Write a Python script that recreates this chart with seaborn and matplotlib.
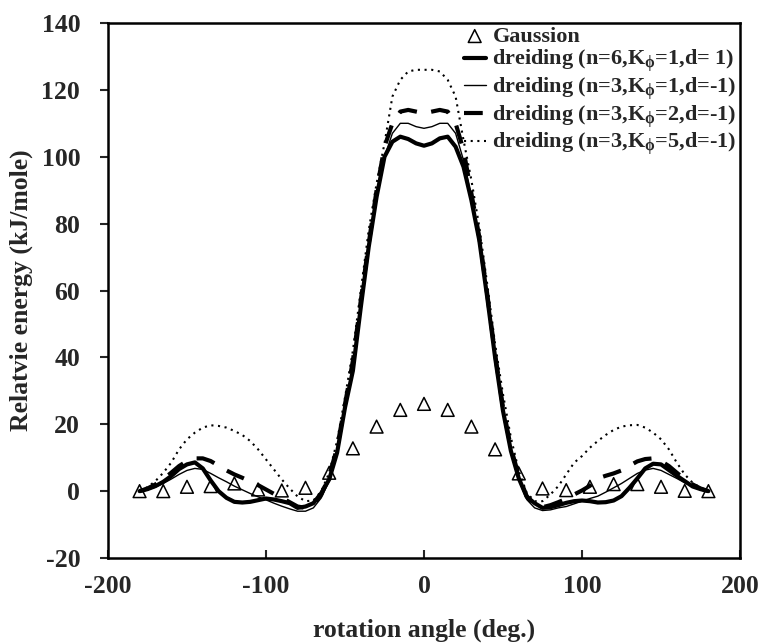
import matplotlib
matplotlib.use('Agg')
import matplotlib.pyplot as plt
import seaborn as sns
import pandas as pd

# rotation angles (deg.) for the dreiding curves, every 5 deg
angle = list(range(-180, 185, 5))

# dreiding (n=6, K=1, d=1) - thick solid
e_n6 = [0, 0.6, 1.5, 2.8, 4.5, 6.6, 8.0, 8.6, 6.8, 3.2,
        0.0, -2.0, -3.2, -3.4, -3.2, -2.7, -2.2, -2.5, -3.0, -3.6,
        -5.0, -4.6, -3.6, -0.6, 3.5, 11.5, 25, 36, 55, 73,
        88, 100, 104.5, 106, 105.3, 104, 103.3, 104, 105.5, 106,
        103, 97, 87, 75, 58, 40, 24, 12, 3.8, -1.7,
        -3.6, -5.0, -4.8, -4.2, -3.5, -3.0, -2.8, -3.0, -3.4, -3.3,
        -2.8, -1.5, 1.0, 3.8, 6.8, 8.2, 8.0, 6.3, 4.6, 3.0,
        1.4, 0.6, 0]

# dreiding (n=3, K=1, d=-1) - thin solid
e_k1 = [0, 0.4, 1.2, 2.3, 3.6, 5.0, 6.2, 6.8, 6.5, 5.3,
        4.0, 2.8, 1.5, 0.4, -0.7, -1.7, -2.6, -3.6, -4.5, -5.3,
        -6.0, -6.0, -5.0, -2.0, 3.0, 11, 24, 37, 55, 72,
        88, 100, 107, 110, 110, 109, 108.5, 109, 110, 110,
        107, 99, 88, 75, 58, 40, 24, 12, 3.5, -2.5,
        -5.0, -5.8, -5.6, -5.0, -4.6, -3.8, -3.0, -2.2, -1.5, -0.3,
        1.0, 2.3, 3.8, 5.3, 6.3, 6.8, 6.2, 5.0, 3.8, 2.5,
        1.4, 0.5, 0]

# dreiding (n=3, K=2, d=-1) - thick dashed
e_k2 = [0, 0.8, 2.0, 3.6, 5.5, 7.5, 9.0, 9.8, 9.8, 9.0,
        7.6, 6.2, 5.0, 4.0, 2.9, 1.8, 0.5, -0.8, -2.0, -3.3,
        -4.6, -5.0, -4.0, -1.0, 4.5, 13, 26, 39, 57, 74,
        90, 103, 110, 113.5, 114, 113.5, 113, 113.5, 114, 113.5,
        110, 102, 89, 76, 59, 41, 25, 13, 4.5, -1.5,
        -4.0, -4.8, -4.2, -3.3, -2.3, -1.0, 0.2, 1.6, 3.8, 4.6,
        5.3, 6.2, 7.6, 8.9, 9.6, 9.8, 9.0, 7.5, 5.5, 3.6,
        2.0, 0.8, 0]

# dreiding (n=3, K=5, d=-1) - dotted
e_k5 = [0, 1.2, 3.0, 5.5, 8.5, 12.5, 15.5, 17.5, 19.0, 19.7,
        19.5, 19.0, 18.0, 16.8, 15.0, 12.5, 9.5, 6.5, 3.5, 0.8,
        -1.6, -3.0, -2.8, 0, 5.5, 15, 28, 42, 60, 78,
        92, 104, 118, 123, 125.5, 126, 126, 126, 125.5, 123,
        118, 105, 93, 79, 62, 44, 29, 16, 6, -0.5,
        -3.0, -3.0, -1.0, 1.5, 5.0, 8.5, 10.5, 13.0, 15.0, 16.8,
        18.3, 19.3, 19.7, 19.8, 19.0, 17.5, 15.5, 12.5, 8.5, 5.0,
        2.5, 1.0, 0]

# Gaussian reference points, every 15 deg
g_angle = list(range(-180, 195, 15))
g_energy = [0, 0, 1.3, 1.5, 2.3, 0.5, 0.2, 1.0, 5.5, 12.8, 19.3, 24.3, 26.1,
            24.3, 19.3, 12.5, 5.3, 0.8, 0.3, 1.3, 2.1, 2.1, 1.3, 0.1, 0]

sns.set_style('ticks')
plt.rcParams['font.family'] = ['Liberation Serif', 'DejaVu Serif']
plt.rcParams['font.weight'] = 'bold'
plt.rcParams['axes.unicode_minus'] = False
plt.rcParams['mathtext.fontset'] = 'custom'
plt.rcParams['mathtext.rm'] = 'Liberation Serif:bold'
plt.rcParams['mathtext.it'] = 'Liberation Serif:bold'
plt.rcParams['mathtext.bf'] = 'Liberation Serif:bold'

df = pd.DataFrame({'angle': angle, 'n6': e_n6, 'k1': e_k1, 'k2': e_k2, 'k5': e_k5})
gdf = pd.DataFrame({'angle': g_angle, 'energy': g_energy})

fig = plt.figure(figsize=(7.63, 6.44), dpi=100)
ax = fig.add_axes([0.1415, 0.1335, 0.8284, 0.8308])

sns.scatterplot(data=gdf, x='angle', y='energy', marker='^', s=85,
                facecolor='none', edgecolor='black', linewidth=1.1,
                label='Gaussion', ax=ax, zorder=2)
sns.lineplot(data=df, x='angle', y='n6', color='black', linewidth=3.0,
             label=r'dreiding (n=6,K$_{\mathrm{\phi}}$=1,d= 1)', ax=ax, zorder=3)
sns.lineplot(data=df, x='angle', y='k1', color='black', linewidth=1.0,
             label=r'dreiding (n=3,K$_{\mathrm{\phi}}$=1,d=-1)', ax=ax, zorder=3)
sns.lineplot(data=df, x='angle', y='k2', color='black', linewidth=3.0,
             linestyle=(0, (4.5, 3.5)),
             label=r'dreiding (n=3,K$_{\mathrm{\phi}}$=2,d=-1)', ax=ax, zorder=3)
sns.lineplot(data=df, x='angle', y='k5', color='black', linewidth=1.5,
             linestyle=(0, (1, 2.2)),
             label=r'dreiding (n=3,K$_{\mathrm{\phi}}$=5,d=-1)', ax=ax, zorder=3)

ax.set_xlim(-200, 200)
ax.set_ylim(-20, 140)
ax.set_xticks([-200, -100, 0, 100, 200])
ax.set_yticks(range(-20, 141, 20))
ax.tick_params(axis='x', direction='in', length=6, width=1.5, labelsize=18.5, pad=12)
ax.tick_params(axis='y', direction='out', length=6, width=1.5, labelsize=18.5, pad=14)
for lab in ax.get_xticklabels() + ax.get_yticklabels():
    lab.set_fontweight('bold')
for sp in ax.spines.values():
    sp.set_visible(True)
    sp.set_linewidth(1.8)
    sp.set_color('black')

ax.set_xlabel('rotation angle (deg.)', fontsize=18.5, fontweight='bold', labelpad=15)
ax.set_ylabel('Relatvie energy (kJ/mole)', fontsize=18.5, fontweight='bold', labelpad=6)

leg = ax.legend(loc='upper right', bbox_to_anchor=(1.0, 1.0), frameon=False,
                handlelength=1.0, handletextpad=0.3,
                labelspacing=0.05, borderaxespad=0.0, borderpad=0.15,
                prop={'weight': 'bold', 'size': 16})

fig.savefig('out.png', dpi=100)
